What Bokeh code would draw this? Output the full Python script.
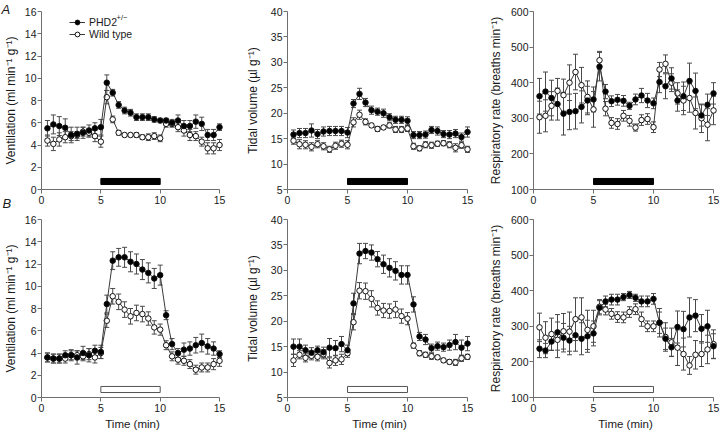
from bokeh.plotting import figure
from bokeh.models import (ColumnDataSource, Whisker, TeeHead, Range1d, Legend,
                          LegendItem, Label, FixedTicker, GridBox)
from bokeh.embed import file_html
from bokeh.resources import INLINE

# ---------------- data ----------------
time_min = [0.5, 1.0, 1.5, 2.0, 2.5, 3.0, 3.5, 4.0, 4.5, 5.0,
            5.5, 6.0, 6.5, 7.0, 7.5, 8.0, 8.5, 9.0, 9.5, 10.0,
            10.5, 11.0, 11.5, 12.0, 12.5, 13.0, 13.5, 14.0, 14.5, 15.0]
stim_start = 5
stim_end = 10
x_ticks = [0, 5, 10, 15]

# Panel A (hypoxia) - ventilation
a_vent_phd = [5.5, 5.85, 5.7, 5.55, 4.9, 5.0, 5.1, 5.3, 5.5, 5.6,
              9.6, 8.7, 7.6, 7.1, 6.9, 6.5, 6.5, 6.5, 6.3, 6.2,
              6.2, 6.0, 6.2, 5.7, 5.7, 6.1, 5.9, 4.9, 4.9, 5.6]
a_vent_phd_err = [0.7, 0.85, 0.85, 0.8, 0.7, 0.6, 0.5, 0.5, 0.5, 0.7,
                  0.7, 0.3, 0.3, 0.3, 0.3, 0.3, 0.3, 0.3, 0.25, 0.2,
                  0.2, 0.3, 0.5, 0.5, 0.5, 0.6, 0.6, 0.5, 0.5, 0.3]
a_vent_wt = [4.4, 4.1, 4.5, 4.7, 4.8, 4.9, 5.2, 5.1, 4.8, 4.3,
             8.3, 6.3, 5.1, 4.9, 4.9, 4.9, 4.7, 4.7, 4.8, 4.6,
             5.9, 5.9, 5.6, 5.3, 4.9, 4.8, 4.3, 3.7, 3.7, 4.0]
a_vent_wt_err = [0.5, 0.6, 0.6, 0.5, 0.4, 0.3, 0.4, 0.4, 0.5, 0.5,
                 0.6, 0.3, 0.2, 0.15, 0.15, 0.2, 0.2, 0.3, 0.3, 0.3,
                 0.3, 0.3, 0.4, 0.5, 0.5, 0.4, 0.4, 0.5, 0.5, 0.5]

# Panel A - tidal volume
a_tv_phd = [15.8, 16.1, 16.1, 16.6, 15.9, 16.4, 16.5, 16.5, 16.5, 16.2,
            21.9, 23.8, 22.1, 20.6, 20.3, 20.0, 19.2, 18.7, 18.7, 18.5,
            15.7, 15.7, 15.8, 16.7, 16.5, 15.9, 15.8, 16.0, 15.3, 16.3]
a_tv_phd_err = [0.9, 0.9, 0.9, 1.3, 0.9, 0.9, 0.9, 0.9, 0.9, 1.0,
                0.8, 1.1, 0.8, 0.8, 0.7, 0.8, 0.7, 0.7, 0.7, 0.8,
                0.7, 0.7, 0.7, 0.7, 0.8, 0.7, 0.8, 0.8, 0.8, 1.0]
a_tv_wt = [14.6, 13.9, 13.8, 13.4, 13.9, 13.5, 12.9, 13.6, 14.0, 13.8,
           18.2, 19.7, 18.3, 17.6, 16.9, 17.2, 17.6, 16.8, 16.8, 17.0,
           13.5, 13.1, 13.8, 13.7, 14.0, 14.1, 13.8, 13.2, 13.7, 12.9]
a_tv_wt_err = [0.7, 0.9, 0.8, 0.8, 0.7, 0.7, 0.6, 0.7, 0.7, 0.8,
               0.9, 0.9, 0.6, 0.4, 0.5, 0.4, 0.5, 0.6, 0.6, 0.6,
               0.6, 0.5, 0.6, 0.6, 0.5, 0.5, 0.6, 0.8, 0.6, 0.6]

# Panel A - respiratory rate
a_rr_phd = [362, 375, 357, 340, 313, 318, 320, 332, 350, 353,
            445, 375, 348, 352, 349, 335, 353, 364, 350, 342,
            402, 390, 412, 350, 362, 405, 377, 308, 338, 370]
a_rr_phd_err = [50, 55, 50, 45, 60, 50, 50, 45, 40, 35,
                40, 20, 15, 15, 15, 10, 15, 20, 20, 15,
                30, 35, 30, 30, 40, 50, 50, 30, 30, 30]
a_rr_wt = [303, 307, 335, 377, 365, 400, 430, 393, 360, 325,
           463, 327, 287, 284, 307, 293, 274, 295, 298, 275,
           437, 453, 400, 370, 350, 357, 315, 300, 282, 322]
a_rr_wt_err = [45, 45, 40, 35, 45, 50, 50, 50, 45, 50,
               25, 20, 15, 15, 15, 15, 10, 15, 15, 15,
               20, 25, 25, 30, 40, 40, 45, 40, 45, 40]

# Panel B (hypercapnia) - ventilation
b_vent_phd = [3.6, 3.5, 3.5, 3.8, 3.8, 3.6, 4.0, 3.8, 4.2, 4.1,
              8.4, 12.3, 12.6, 12.6, 12.2, 12.0, 11.5, 11.2, 10.7, 11.0,
              7.4, 4.8, 4.0, 4.3, 4.4, 4.7, 4.9, 4.6, 4.4, 3.9]
b_vent_phd_err = [0.4, 0.4, 0.4, 0.4, 0.5, 0.6, 0.6, 0.6, 0.5, 0.6,
                  0.8, 0.8, 0.8, 0.9, 0.9, 0.9, 0.9, 0.9, 0.9, 0.9,
                  0.4, 0.5, 0.4, 0.6, 0.6, 0.7, 0.8, 0.7, 0.6, 0.3]
b_vent_wt = [3.6, 3.5, 3.5, 3.5, 3.8, 3.8, 3.7, 3.9, 3.6, 4.0,
             6.9, 9.1, 8.6, 7.9, 7.3, 7.6, 7.5, 7.1, 6.3, 6.1,
             4.7, 3.7, 3.4, 3.3, 3.0, 2.5, 2.7, 2.7, 3.0, 3.3]
b_vent_wt_err = [0.4, 0.4, 0.4, 0.4, 0.4, 0.4, 0.4, 0.5, 0.5, 0.5,
                 0.6, 0.7, 0.7, 0.7, 0.7, 0.7, 0.7, 0.6, 0.6, 0.5,
                 0.4, 0.4, 0.4, 0.4, 0.4, 0.4, 0.4, 0.4, 0.5, 0.5]

# Panel B - tidal volume
b_tv_phd = [15.0, 15.0, 14.3, 13.8, 14.3, 13.9, 14.8, 14.7, 15.5, 14.3,
            23.5, 33.3, 33.8, 33.5, 32.2, 31.2, 30.5, 29.9, 29.1, 29.1,
            23.3, 17.0, 16.4, 14.7, 15.1, 14.9, 15.3, 15.9, 14.8, 15.6]
b_tv_phd_err = [1.5, 1.5, 1.0, 1.0, 0.8, 1.0, 1.8, 1.5, 1.5, 1.0,
                2.0, 2.0, 1.5, 1.5, 1.5, 1.8, 1.8, 1.8, 1.8, 1.8,
                1.5, 0.8, 1.0, 0.8, 0.8, 0.8, 1.0, 1.5, 1.5, 1.4]
b_tv_wt = [12.3, 13.4, 12.8, 13.2, 13.0, 13.5, 11.8, 12.3, 12.5, 13.7,
           19.8, 26.0, 25.9, 24.4, 22.6, 22.1, 22.0, 22.3, 21.0, 20.5,
           15.2, 13.7, 13.4, 13.1, 12.9, 12.3, 12.0, 11.9, 12.7, 13.0]
b_tv_wt_err = [1.2, 0.8, 0.8, 0.8, 0.8, 0.9, 1.0, 1.0, 1.0, 0.8,
               1.5, 1.6, 1.6, 1.6, 1.4, 1.4, 1.4, 1.6, 1.4, 1.2,
               0.5, 0.5, 0.5, 0.6, 0.4, 0.4, 0.4, 0.6, 0.6, 0.5]

# Panel B - respiratory rate
b_rr_phd = [237, 232, 257, 283, 268, 260, 275, 265, 272, 280,
            352, 370, 375, 375, 382, 388, 380, 370, 370, 377,
            310, 265, 241, 298, 292, 325, 330, 293, 300, 244]
b_rr_phd_err = [25, 20, 25, 50, 40, 40, 45, 45, 45, 35,
                20, 15, 15, 15, 10, 10, 10, 15, 15, 15,
                30, 30, 25, 45, 50, 55, 45, 40, 45, 35]
b_rr_wt = [297, 268, 278, 262, 286, 285, 320, 325, 290, 300,
           355, 347, 335, 326, 325, 340, 348, 320, 300, 300,
           310, 270, 255, 240, 222, 190, 220, 222, 235, 250]
b_rr_wt_err = [40, 45, 45, 50, 50, 55, 60, 55, 55, 45,
               20, 15, 15, 15, 15, 15, 15, 20, 15, 15,
               40, 40, 40, 50, 45, 25, 40, 35, 40, 40]

vent_ticks = [0, 2, 4, 6, 8, 10, 12, 14, 16]
tv_ticks = [5, 10, 15, 20, 25, 30, 35, 40]
rr_ticks = [100, 200, 300, 400, 500, 600]

vent_label = "Ventilation (ml min\u207b\u00b9 g\u207b\u00b9)"
tv_label = "Tidal volume (\u00b5l g\u207b\u00b9)"
rr_label = "Respiratory rate (breaths min\u207b\u00b9)"
panel_letters = ["A", "B"]

# ---------------- style / geometry ----------------
FONT = "Liberation Sans"
AXIS_COL = "#6e6e6e"
TEXT_COL = "#1a1a1a"
LINE_COL = "#3a3a3a"
ERR_COL = "#4a4a4a"

COL_W = 240
COL_L = [39, 47, 53]          # frame left inside each column
COL_LABEL_STANDOFF = [4, 8, 5]
PX_PER_X = 12.0               # pixels per minute
FRAME_W = 184
ROW_H = [209, 227]
ROW_T = [11, 10]
FRAME_H = 178


def make_panel(ci, ri, ylab, yticks, phd, phd_err, wt, wt_err, filled_bar):
    y0, y1 = yticks[0], yticks[-1]
    h = ROW_H[ri]
    p = figure(width=COL_W, height=h, output_backend="svg", toolbar_location=None,
               x_range=Range1d(0, FRAME_W / PX_PER_X), y_range=Range1d(y0, y1),
               min_border_left=COL_L[ci],
               min_border_right=COL_W - COL_L[ci] - FRAME_W,
               min_border_top=ROW_T[ri],
               min_border_bottom=h - ROW_T[ri] - FRAME_H,
               background_fill_color="white", border_fill_color="white")
    p.frame_align = False
    p.outline_line_color = None
    p.grid.visible = False

    for ax in (p.xaxis[0], p.yaxis[0]):
        ax.axis_line_color = AXIS_COL
        ax.axis_line_width = 1
        ax.major_tick_line_color = AXIS_COL
        ax.major_tick_out = 4
        ax.major_tick_in = 0
        ax.minor_tick_line_color = None
        ax.major_label_text_font = FONT
        ax.major_label_text_font_size = "10.5px"
        ax.major_label_text_color = TEXT_COL
        ax.axis_label_text_font = FONT
        ax.axis_label_text_font_style = "normal"
        ax.axis_label_text_color = TEXT_COL
    p.xaxis[0].ticker = FixedTicker(ticks=x_ticks)
    p.xaxis[0].bounds = (x_ticks[0], x_ticks[-1])
    p.xaxis[0].major_label_standoff = 2
    p.yaxis[0].ticker = FixedTicker(ticks=yticks)
    p.yaxis[0].bounds = (y0, y1)
    p.yaxis[0].major_label_standoff = 1
    p.yaxis[0].axis_label = ylab
    p.yaxis[0].axis_label_text_font_size = "12px"
    p.yaxis[0].axis_label_standoff = COL_LABEL_STANDOFF[ci]
    if ri == 1:
        p.xaxis[0].axis_label = "Time (min)"
        p.xaxis[0].axis_label_text_font_size = "11.5px"
        p.xaxis[0].axis_label_standoff = 3

    # stimulus bar
    span = y1 - y0
    p.quad(left=[stim_start], right=[stim_end],
           bottom=[y0 + 0.028 * span], top=[y0 + 0.062 * span],
           fill_color="black" if filled_bar else "white",
           line_color="black" if filled_bar else "#555555", line_width=1)

    series = []
    for vals, errs, fill in ((wt, wt_err, "white"), (phd, phd_err, "black")):
        src = ColumnDataSource(dict(x=time_min, y=vals,
                                    lo=[v - e for v, e in zip(vals, errs)],
                                    hi=[v + e for v, e in zip(vals, errs)]))
        wk = Whisker(source=src, base="x", upper="hi", lower="lo",
                     dimension="height", line_color=ERR_COL, line_width=1,
                     level="underlay",
                     upper_head=TeeHead(size=5, line_color=ERR_COL, line_width=1),
                     lower_head=TeeHead(size=5, line_color=ERR_COL, line_width=1))
        p.add_layout(wk)
        ln = p.line("x", "y", source=src, line_color=LINE_COL, line_width=1)
        sc = p.scatter("x", "y", source=src, marker="circle", size=5.5,
                       fill_color=fill, line_color="#111111", line_width=1)
        series.append((ln, sc))
    return p, series


pa1, sa1 = make_panel(0, 0, vent_label, vent_ticks, a_vent_phd, a_vent_phd_err,
                      a_vent_wt, a_vent_wt_err, True)
pa2, _ = make_panel(1, 0, tv_label, tv_ticks, a_tv_phd, a_tv_phd_err,
                    a_tv_wt, a_tv_wt_err, True)
pa3, _ = make_panel(2, 0, rr_label, rr_ticks, a_rr_phd, a_rr_phd_err,
                    a_rr_wt, a_rr_wt_err, True)
pb1, _ = make_panel(0, 1, vent_label, vent_ticks, b_vent_phd, b_vent_phd_err,
                    b_vent_wt, b_vent_wt_err, False)
pb2, _ = make_panel(1, 1, tv_label, tv_ticks, b_tv_phd, b_tv_phd_err,
                    b_tv_wt, b_tv_wt_err, False)
pb3, _ = make_panel(2, 1, rr_label, rr_ticks, b_rr_phd, b_rr_phd_err,
                    b_rr_wt, b_rr_wt_err, False)

# legend in panel A1 (location = bottom-left corner, px from frame's bottom-left)
FB1 = ROW_T[0] + FRAME_H
legend = Legend(items=[LegendItem(label="PHD2", renderers=list(sa1[1])),
                       LegendItem(label="Wild type", renderers=list(sa1[0]))],
                location=(67 - COL_L[0], FB1 - 40), orientation="vertical",
                label_text_font=FONT, label_text_font_size="10.5px",
                label_text_color=TEXT_COL, glyph_width=16, glyph_height=12,
                label_height=12, label_standoff=4, spacing=0, padding=0,
                margin=0, border_line_color=None, background_fill_alpha=0)
pa1.add_layout(legend)
pa1.add_layout(Label(x=114 - COL_L[0], y=FB1 - 17, x_units="screen",
                     y_units="screen", text="+/\u2212", text_font=FONT,
                     text_font_size="7.5px", text_color=TEXT_COL,
                     text_baseline="middle"))

# transparent overlay over column 1 carrying the panel letters
TOTAL_H = ROW_H[0] + ROW_H[1]
letters = figure(width=COL_W, height=TOTAL_H, output_backend="svg",
                 toolbar_location=None, x_range=Range1d(0, 1), y_range=Range1d(0, 1),
                 x_axis_location=None, y_axis_location=None,
                 min_border=0, min_border_left=0, min_border_right=0,
                 min_border_top=0, min_border_bottom=0,
                 background_fill_alpha=0, border_fill_alpha=0)
letters.frame_align = False
letters.outline_line_color = None
letters.grid.visible = False
letter_pos = [(1, 1), (2, 195)]   # canvas px from top-left
for txt, (lx, ly) in zip(panel_letters, letter_pos):
    letters.add_layout(Label(x=lx, y=TOTAL_H - ly, x_units="screen",
                             y_units="screen", text=txt, text_font=FONT,
                             text_font_size="13px", text_font_style="italic",
                             text_color=TEXT_COL, text_baseline="top"))

layout = GridBox(children=[(pa1, 0, 0), (pa2, 0, 1), (pa3, 0, 2),
                           (pb1, 1, 0), (pb2, 1, 1), (pb3, 1, 2),
                           (letters, 0, 0, 2, 1)], spacing=0)

open("out.html", "w").write(file_html(layout, INLINE))
